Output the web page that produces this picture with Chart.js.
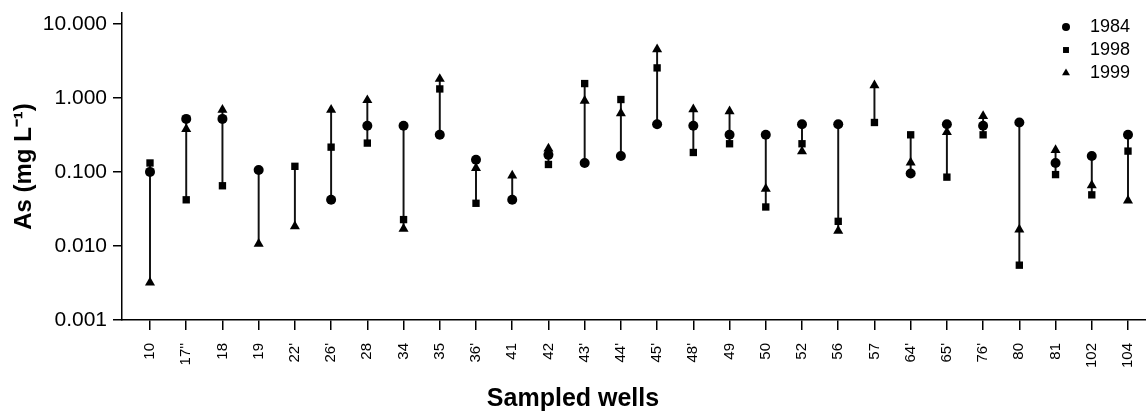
<!DOCTYPE html>
<html>
<head>
<meta charset="utf-8">
<script src="https://cdn.jsdelivr.net/npm/chart.js@4/dist/chart.umd.min.js"></script>
<style>
    html, body { margin: 0; padding: 0; background: #fff; }
</style>
</head>
<body>
<canvas id="asChart" width="1146" height="414"></canvas>
<script>
// Sampled wells and As concentrations (mg/L), null = not sampled
const wells = ['10', "17''", '18', '19', "22'", "26'", '28', '34', '35', "36'", '41', '42', "43'", "44'",
    "45'", "48'", '49', '50', '52', '56', '57', "64'", "65'", "76'", '80', '81', '102', '104'];
const as1984 = [0.100, 0.52, 0.52, 0.106, null, 0.042, 0.42, 0.42, 0.317, 0.146, 0.042, 0.17, 0.132, 0.164,
    0.44, 0.42, 0.317, 0.317, 0.44, 0.44, null, 0.095, 0.44, 0.42, 0.465, 0.132, 0.164, 0.317];
const as1998 = [0.132, 0.042, 0.065, null, 0.119, 0.216, 0.245, 0.0227, 1.32, 0.0377, null, 0.126, 1.56, 0.95,
    2.54, 0.183, 0.24, 0.0336, 0.24, 0.0215, 0.465, 0.317, 0.085, 0.317, 0.0055, 0.092, 0.049, 0.191];
const as1999 = [0.0032, 0.38, 0.69, 0.0107, 0.0184, 0.69, 0.93, 0.017, 1.80, 0.113, 0.089, 0.206, 0.91, 0.62,
    4.53, 0.70, 0.66, 0.059, 0.189, 0.016, 1.48, 0.134, 0.344, 0.566, 0.0166, 0.197, 0.066, 0.041];
const yTicks = [0.001, 0.01, 0.1, 1, 10];

const FONT = '"Liberation Sans", Arial, sans-serif';

// vertical line per well from lowest to highest value
const ranges = wells.map((w, i) => {
    const v = [as1984[i], as1998[i], as1999[i]].filter(x => x !== null);
    return { x: i, y: [Math.min(...v), Math.max(...v)] };
});
const points = arr => arr.map((y, i) => ({ x: i, y: y })).filter(p => p.y !== null);

// legend in the top right corner, one entry per row
const cornerLegend = {
    id: 'cornerLegend',
    afterDraw(chart) {
        const ctx = chart.ctx;
        const x = chart.chartArea.right - 80;
        let y = chart.chartArea.top + 14;
        ctx.save();
        ctx.font = '18px ' + FONT;
        ctx.textBaseline = 'middle';
        ctx.fillStyle = '#000';
        chart.data.datasets.filter(d => d.type !== 'bar').forEach(d => {
            Chart.helpers.drawPoint(ctx, { pointStyle: d.pointStyle, radius: d.legendRadius, rotation: 0, borderWidth: 0 }, x, y);
            ctx.fillText(d.label, x + 24, y);
            y += 23;
        });
        ctx.restore();
    }
};

const ctx = document.getElementById('asChart').getContext('2d');
new Chart(ctx, {
    type: 'scatter',
    data: {
        datasets: [
            { type: 'bar', label: 'range', data: ranges, backgroundColor: '#111', barThickness: 1.3, order: 2 },
            { label: '1984', data: points(as1984), pointStyle: 'circle', pointRadius: 5, legendRadius: 4,
              backgroundColor: '#000', borderWidth: 0, order: 1 },
            { label: '1998', data: points(as1998), pointStyle: 'rect', pointRadius: 5.2, legendRadius: 4.2,
              backgroundColor: '#000', borderWidth: 0, order: 1 },
            { label: '1999', data: points(as1999), pointStyle: 'triangle', pointRadius: 5.8, legendRadius: 4.6,
              backgroundColor: '#000', borderWidth: 0, order: 1 }
        ]
    },
    options: {
        responsive: false,
        devicePixelRatio: 1,
        animation: false,
        layout: { autoPadding: false, padding: { top: 13, left: 0, right: 0, bottom: 0 } },
        scales: {
            x: {
                type: 'linear',
                min: -0.773,
                max: 27.497,
                offset: false,
                afterBuildTicks: s => { s.ticks = wells.map((w, i) => ({ value: i })); },
                afterFit: s => { s.height = 64; s.paddingLeft = 0; s.paddingRight = 0; },
                ticks: {
                    autoSkip: false, minRotation: 90, maxRotation: 90, padding: 13, color: '#000',
                    font: { size: 15, family: FONT },
                    callback: v => wells[v]
                },
                grid: { offset: false, drawOnChartArea: false, tickLength: 10, color: '#000', lineWidth: 1.5 },
                border: { color: '#000', width: 1.5 }
            },
            y: {
                type: 'logarithmic',
                min: 0.001,
                max: 14,
                afterBuildTicks: s => { s.ticks = yTicks.map(v => ({ value: v })); },
                afterFit: s => { s.width = 122; s.paddingTop = 0; s.paddingBottom = 0; },
                ticks: {
                    padding: 6, color: '#000',
                    font: { size: 21, family: FONT },
                    callback: v => v.toFixed(3)
                },
                grid: { drawOnChartArea: false, tickLength: 9, color: '#000', lineWidth: 1.5 },
                border: { color: '#000', width: 1.5 },
                title: {
                    display: true, text: 'As (mg L⁻¹)', color: '#000',
                    font: { size: 24, weight: 'bold', family: FONT },
                    padding: { top: 10, bottom: 0 }
                }
            }
        },
        plugins: {
            legend: { display: false },
            tooltip: { enabled: false },
            title: {
                display: true, position: 'bottom', text: 'Sampled wells', color: '#000',
                font: { size: 25, weight: 'bold', family: FONT },
                padding: { top: 0, bottom: 0 }
            }
        }
    },
    plugins: [cornerLegend]
});
</script>
</body>
</html>
